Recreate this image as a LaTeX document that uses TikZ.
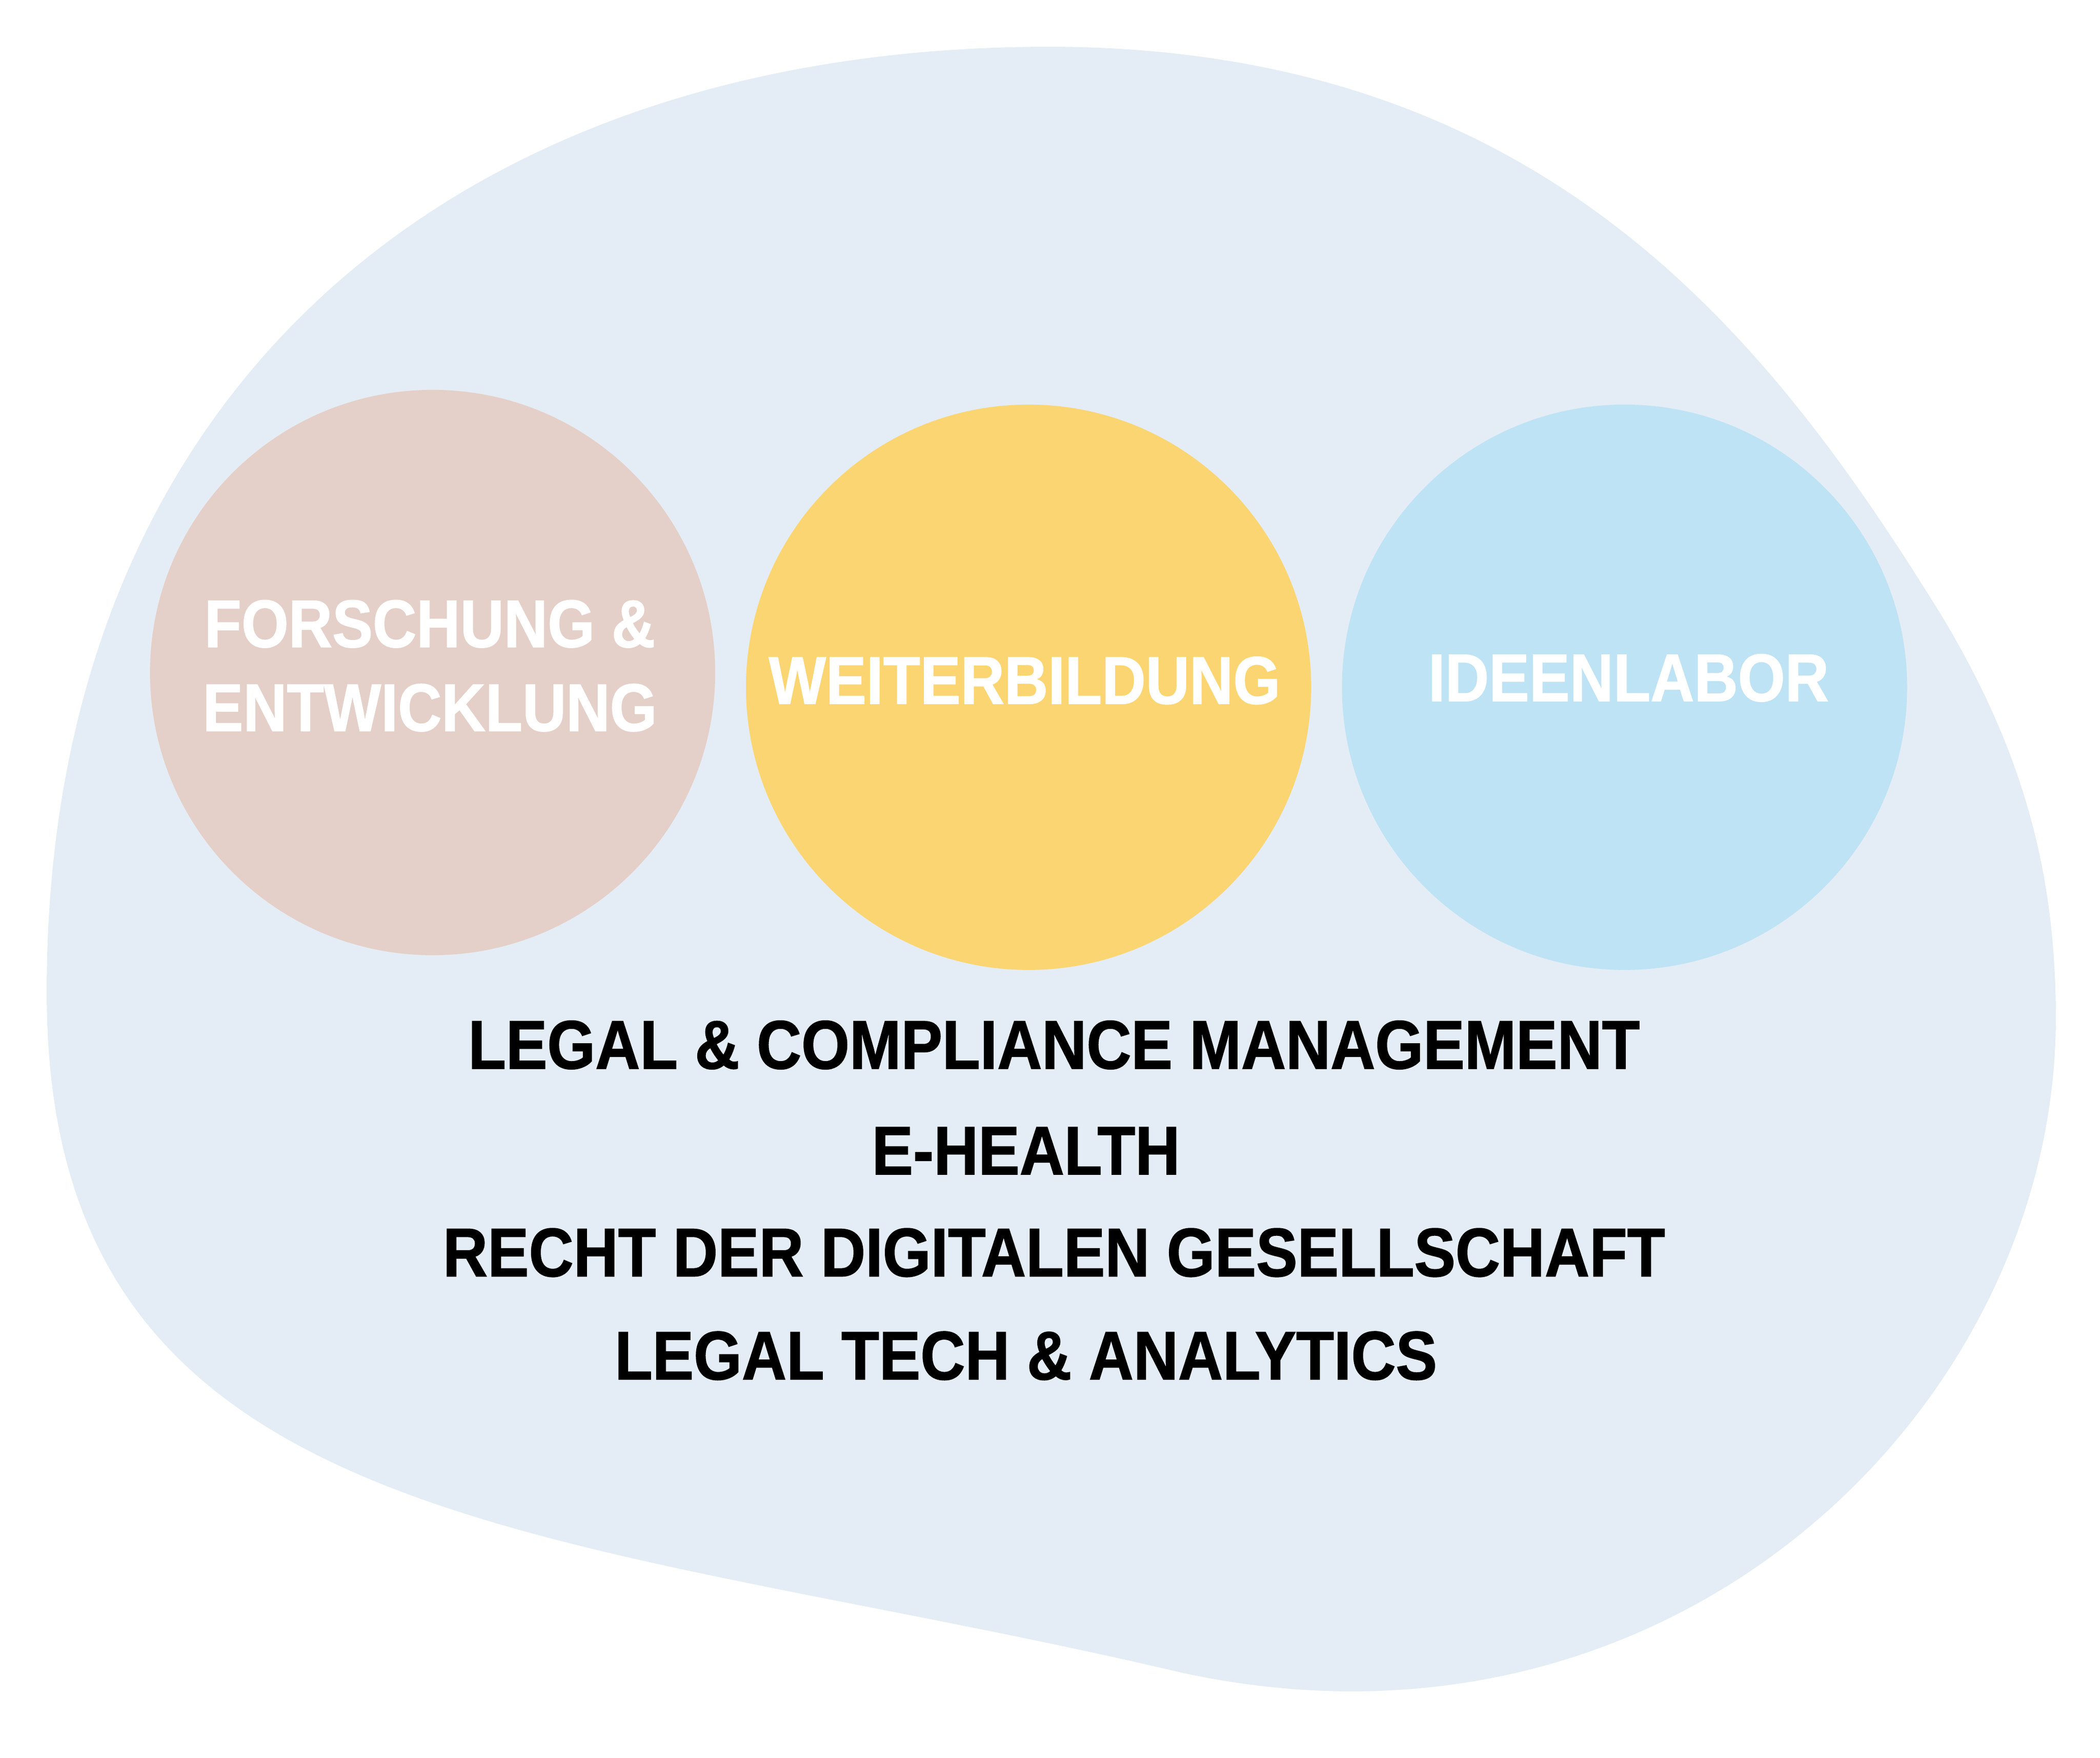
\documentclass[tikz,border=0pt]{standalone}
\usepackage{fontspec}
\setmainfont[FakeStretch=0.9,BoldFeatures={FakeBold=1.2}]{Liberation Sans}
\definecolor{blob}{HTML}{E4EDF5}
\definecolor{cA}{HTML}{E4D0C8}
\definecolor{cB}{HTML}{FBD572}
\definecolor{cC}{HTML}{BEE3F4}
\begin{document}
\begin{tikzpicture}[x=0.1mm,y=-0.1mm,
  circ/.style={circle,minimum size=42.2mm,inner sep=0pt},
  wlab/.style={text=white,font=\fontsize{14.3}{17.8}\selectfont\bfseries,align=center},
  blab/.style={text=black,font=\fontsize{14.6}{17}\selectfont\bfseries}]
\useasboundingbox (0,0) rectangle (1568,1312);
\fill[blob] (770,35) .. controls (1150,30) and (1320,250) .. (1450,460)
  .. controls (1510,560) and (1535,650) .. (1535,760)
  .. controls (1535,1050) and (1250,1330) .. (880,1248)
  .. controls (420,1140) and (40,1150) .. (35,750)
  .. controls (30,300) and (330,40) .. (770,35) -- cycle;
\node[circ,fill=cA] (fe) at (323,502) {};
\node[circ,fill=cB] (wb) at (768,513) {};
\node[circ,fill=cC] (il) at (1213,513) {};
\node[wlab] (tfe) at (321,497) {FORSCHUNG \&\\ENTWICKLUNG};
\node[wlab] (twb) at (765,508) {WEITERBILDUNG};
\node[wlab] (til) at (1216,506) {IDEENLABOR};
\node[blab] (l1) at (787,780) {LEGAL \& COMPLIANCE MANAGEMENT};
\node[blab] (l2) at (766,859) {E-HEALTH};
\node[blab] (l3) at (787,935) {RECHT DER DIGITALEN GESELLSCHAFT};
\node[blab] (l4) at (766,1012) {LEGAL TECH \& ANALYTICS};
\end{tikzpicture}
\end{document}
